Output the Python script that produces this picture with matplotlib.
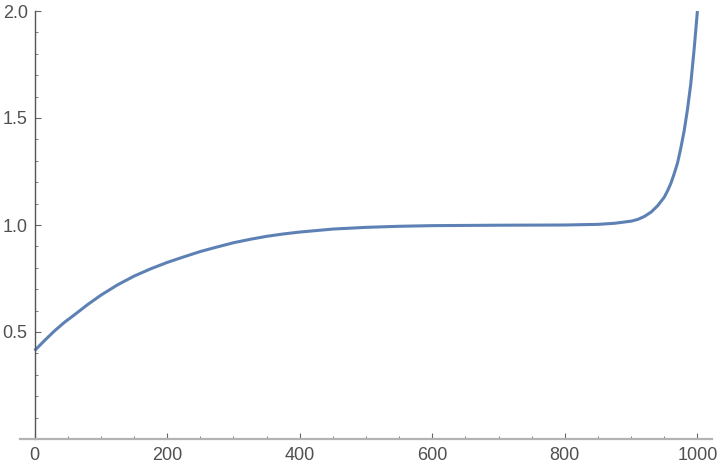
import numpy as np
import matplotlib
matplotlib.use("Agg")
import matplotlib.pyplot as plt
from matplotlib.ticker import MultipleLocator, FixedLocator

# values
x_vals = [0, 15, 30, 45, 60, 80, 100, 125, 150, 175, 200, 225, 250, 275,
          300, 325, 350, 375, 400, 450, 500, 550, 600, 700, 800, 850, 875,
          900, 910, 920, 930, 940, 950, 955, 960, 965, 970, 975, 980, 985,
          990, 995, 1000]
y_vals = [0.413, 0.46, 0.505, 0.545, 0.58, 0.628, 0.672, 0.72, 0.761, 0.795,
          0.825, 0.851, 0.876, 0.897, 0.917, 0.933, 0.947, 0.958, 0.967,
          0.981, 0.989, 0.994, 0.997, 0.999, 1.0, 1.003, 1.008, 1.018, 1.026,
          1.04, 1.06, 1.09, 1.13, 1.16, 1.195, 1.24, 1.29, 1.36, 1.44, 1.54,
          1.66, 1.82, 2.0]

x_ticks = [0, 200, 400, 600, 800, 1000]
y_ticks = [0.5, 1.0, 1.5, 2.0]

plt.rcParams['font.family'] = ['Liberation Sans', 'DejaVu Sans']

fig = plt.figure(figsize=(7.2, 4.68), dpi=100)
ax = fig.add_axes([20 / 720, (468 - 439) / 468, 692 / 720, 428 / 468])

ax.plot(x_vals, y_vals, color='#5E81B5', lw=2.2, solid_capstyle='butt',
        solid_joinstyle='round', clip_on=False)

ax.set_xlim(-22, 1022)
ax.set_ylim(0, 2)

for s in ['top', 'right']:
    ax.spines[s].set_visible(False)
ax.spines['left'].set_position(('data', 0))
ax.spines['left'].set_bounds(0, 2)
ax.spines['left'].set_color('#555555')
ax.spines['left'].set_linewidth(1.0)
ax.spines['bottom'].set_color('#b3b3b3')
ax.spines['bottom'].set_linewidth(1.6)

ax.xaxis.set_major_locator(FixedLocator(x_ticks))
ax.xaxis.set_minor_locator(MultipleLocator(50))
ax.yaxis.set_major_locator(FixedLocator(y_ticks))
ax.yaxis.set_minor_locator(MultipleLocator(0.1))
ax.set_xticklabels([str(t) for t in x_ticks])
ax.set_yticklabels(['%.1f' % t for t in y_ticks])

ax.tick_params(which='both', direction='in', color='#666666',
               labelcolor='#505050', labelsize=13)
ax.tick_params(which='major', length=4, width=0.8)
ax.tick_params(which='minor', length=2.2, width=0.6)
ax.tick_params(axis='x', pad=6)
ax.tick_params(axis='y', pad=5)

fig.savefig('out.png', dpi=100)
